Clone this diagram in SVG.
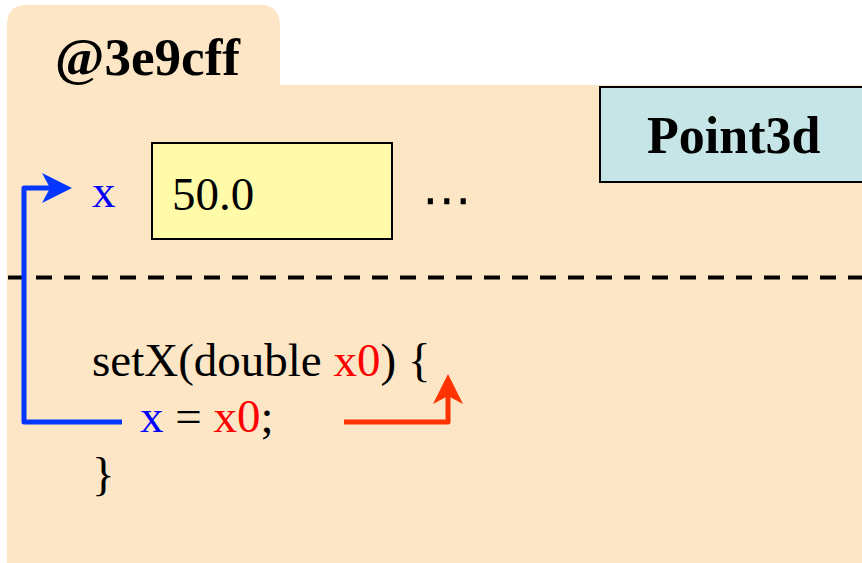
<svg xmlns="http://www.w3.org/2000/svg" width="862" height="563" viewBox="0 0 862 563">
<defs>
<style>
.t{font-family:"Liberation Serif","Times New Roman",serif;font-size:47px;fill:#000}
.b{font-weight:bold;font-size:52px}
.blue{fill:#0000FF}
.red{fill:#FF0000}
.box{stroke:#000;stroke-width:2}
.conn{fill:none;stroke-width:5;stroke-linejoin:round}
</style>
<marker id="ahB" viewBox="-30 -16 30 32" refX="-20" refY="0" markerWidth="30" markerHeight="32" markerUnits="userSpaceOnUse" orient="auto" overflow="visible">
<path d="M0,0 L-30,-15 L-22,0 L-30,15 Z" fill="#0536FF"/>
</marker>
<marker id="ahR" viewBox="-30 -16 30 32" refX="-20" refY="0" markerWidth="30" markerHeight="32" markerUnits="userSpaceOnUse" orient="auto" overflow="visible">
<path d="M0,0 L-30,-15 L-22,0 L-30,15 Z" fill="#FF3300"/>
</marker>
</defs>
<g id="object">
<path d="M7,563 V25 Q7,5 27,5 H260 Q280,5 280,25 V85 H862 V563 Z" fill="#FDE6C5"/>
<text class="t b" x="55" y="75" textLength="185" lengthAdjust="spacingAndGlyphs">@3e9cff</text>
</g>
<g id="class-label">
<rect class="box" x="600" y="87" width="270" height="95" fill="#C5E5E7"/>
<text class="t b" x="647" y="153">Point3d</text>
</g>
<g id="field-x">
<text class="t blue" x="92" y="207">x</text>
<rect class="box" x="152" y="143" width="240" height="96" fill="#FFFBA8"/>
<text class="t" x="172" y="210">50.0</text>
<text x="447" y="217" font-family="DejaVu Sans,sans-serif" font-size="50" text-anchor="middle">⋯</text>
</g>
<line x1="8" y1="277.5" x2="862" y2="277.5" stroke="#000" stroke-width="4" stroke-dasharray="16 12"/>
<g id="method">
<text class="t" x="92" y="376">setX(double <tspan class="red">x0</tspan>) {</text>
<text class="t" x="140" y="432"><tspan class="blue">x</tspan> = <tspan class="red">x0</tspan>;</text>
<text class="t" x="92" y="490">}</text>
</g>
<g id="connectors">
<path class="conn" d="M122,422 H24 V188 H52" stroke="#0536FF" marker-end="url(#ahB)"/>
<path class="conn" d="M344,422 H448 V394" stroke="#FF3300" marker-end="url(#ahR)"/>
</g>
</svg>
